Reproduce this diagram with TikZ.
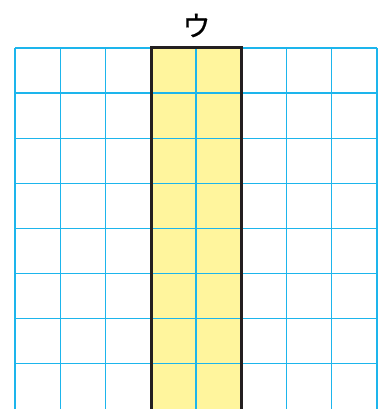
\documentclass[tikz,border=0pt]{standalone}
\usepackage{fontspec}
\newfontfamily\jpfont[FakeBold=0.6]{Noto Sans CJK JP}
\definecolor{gridblue}{HTML}{1DB5EC}
\definecolor{paleyellow}{HTML}{FFF59D}
\definecolor{inkblack}{HTML}{231F20}
\usetikzlibrary{positioning}

\begin{document}
\begin{tikzpicture}[x=1pt, y=-1pt,
  gridline/.style={draw=gridblue, line width=1.4pt},
  stripline/.style={draw=inkblack, line width=3pt, line join=miter},
  head/.style={font=\jpfont\fontsize{28}{28}\selectfont, inner sep=0pt},
]
\useasboundingbox (0,0) rectangle (380,409);

% highlighted strip
\fill[paleyellow] (151,48) rectangle (241,409);

% grid
\foreach \i in {0,...,8}
  \draw[gridline] ({15+45.25*\i},48) -- ({15+45.25*\i},409);
\foreach \j in {0,...,7}
  \draw[gridline] (15,{48+45.1*\j}) -- (377,{48+45.1*\j});

% strip outline
\draw[stripline] (151,409) -- (151,48) -- (241,48) -- (241,409);

\node[head] (u) at (196.5,25.5) {ウ};
\end{tikzpicture}
\end{document}
